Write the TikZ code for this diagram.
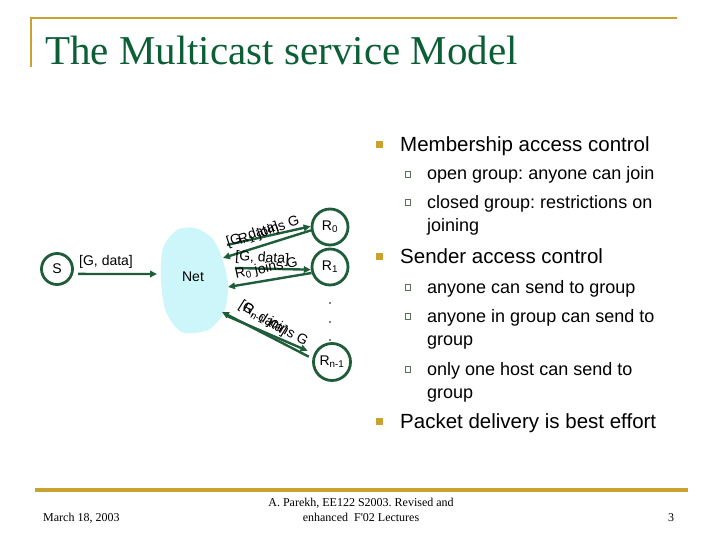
\documentclass[tikz,border=0pt]{standalone}
\usepackage{fontspec}
\setmainfont{Liberation Sans}
\newfontfamily\seriffont{Liberation Serif}
\usetikzlibrary{arrows.meta}
\definecolor{slidegold}{HTML}{C9A22F}
\definecolor{titlegreen}{HTML}{0B5E35}
\definecolor{linkgreen}{HTML}{1E5C3A}
\definecolor{netblue}{HTML}{CCF6FA}
\definecolor{boxgrey}{HTML}{5A6E5A}
\frenchspacing

\begin{document}
\begin{tikzpicture}[x=1pt, y=-1pt,
    host/.style={circle, draw=linkgreen, line width=2.8pt, inner sep=0pt,
                 minimum size=#1, font=\fontsize{14}{14}\selectfont},
    flow/.style={draw=linkgreen, line width=2.4pt, -{Triangle[length=7pt,width=6.5pt]}},
    lbl/.style={font=\fontsize{14}{14}\selectfont, inner sep=0pt, anchor=base west},
    mainitem/.style={font=\fontsize{20.5}{24}\selectfont, inner sep=0pt, anchor=base west},
    subitem/.style={font=\fontsize{18}{23.5}\selectfont, inner sep=0pt, anchor=base west,
                    align=left},
    mainbox/.style={fill=slidegold, minimum size=7pt, inner sep=0pt},
    subbox/.style={draw=boxgrey, fill=white, line width=0.7pt, minimum size=5.5pt, inner sep=0pt},
    foot/.style={font=\seriffont\fontsize{12}{15}\selectfont, inner sep=0pt}]
  \useasboundingbox (0,0) rectangle (720,540);

  % title and rules
  \draw[slidegold, line width=2.5pt] (31,67) -- (31,18) -- (677,18);
  \node[font=\seriffont\fontsize{41}{41}\selectfont, text=titlegreen, inner sep=0pt,
        anchor=base west] (title) at (45,65) {The Multicast service Model};
  \draw[slidegold, line width=3.5pt] (35,490) -- (688,490);
  \node[foot, anchor=base west] (date) at (43,521) {March 18, 2003};
  \node[foot, align=center] (credit) at (361,510)
    {A. Parekh, EE122 S2003. Revised and\\enhanced\ \ F'02 Lectures};
  \node[foot, anchor=base west] (page) at (668,521) {3};

  % network
  \fill[netblue] plot[smooth cycle] coordinates {(177,230) (195,228) (212,238) (222,258)
    (228,285) (224,312) (208,330) (182,332) (166,312) (161,280) (163,248)};
  \node[font=\fontsize{14}{14}\selectfont] (net) at (193,277) {Net};

  \node[host=31pt] (S) at (57,269) {S};
  \node[host=36pt] (R0) at (330,227) {R\textsubscript{0}};
  \node[host=36pt] (R1) at (330,267) {R\textsubscript{1}};
  \node[host=37pt] (Rn) at (332,362) {R\textsubscript{n-1}};
  \foreach \y in {303,322,340}
    \fill (330,\y) circle (0.8);

  \coordinate (sin) at (157,274);
  \coordinate (n0a) at (227,245);
  \coordinate (n0b) at (223,258);
  \coordinate (n1a) at (235,268);
  \coordinate (n1b) at (228,287);
  \coordinate (nna) at (227,316);
  \coordinate (nnb) at (222,312);

  \draw[flow, shorten <=5pt] (S.-17) -- (sin);
  \draw[flow] (n0a) -- (R0.178);
  \draw[flow] (R0.190) -- (n0b);
  \draw[flow] (n1a) -- (R1.188);
  \draw[flow] (R1.198) -- (n1b);
  \draw[flow, shorten >=7pt] (nna) -- (Rn.155);
  \draw[flow, shorten <=4pt] (Rn.170) -- (nnb);

  \node[lbl] (ds) at (79,265) {[G, data]};
  \node[lbl, rotate=18] (d0) at (228,247) {[G, data]};
  \node[lbl, rotate=19] (j0) at (240,245) {R\textsubscript{1} joins G};
  \node[lbl, rotate=-4] (d1) at (235,260) {[G, data]};
  \node[lbl, rotate=12] (j1) at (236,279) {R\textsubscript{0} joins G};
  \node[lbl, rotate=-32] (dn) at (238,307) {[G, data]};
  \node[lbl, rotate=-30] (jn) at (242,310) {R\textsubscript{n-1} joins G};

  % bullet list (multi-line items sit on their last baseline)
  \node[mainbox] at (379,145) {};
  \node[mainitem] (memb) at (400,152) {Membership access control};
  \node[subbox] at (408,174.5) {};
  \node[subitem] (open) at (427,180) {open group: anyone can join};
  \node[subbox] at (408,202.5) {};
  \node[subitem] (closed) at (427,231.5) {closed group: restrictions on\\joining};
  \node[mainbox] at (379,256) {};
  \node[mainitem] (send) at (400,263) {Sender access control};
  \node[subbox] at (408,287.5) {};
  \node[subitem] (any) at (427,293) {anyone can send to group};
  \node[subbox] at (408,316.5) {};
  \node[subitem] (ingrp) at (427,345.5) {anyone in group can send to\\group};
  \node[subbox] at (408,369.5) {};
  \node[subitem] (one) at (427,398.5) {only one host can send to\\group};
  \node[mainbox] at (379,421) {};
  \node[mainitem] (best) at (400,428) {Packet delivery is best effort};
\end{tikzpicture}
\end{document}
